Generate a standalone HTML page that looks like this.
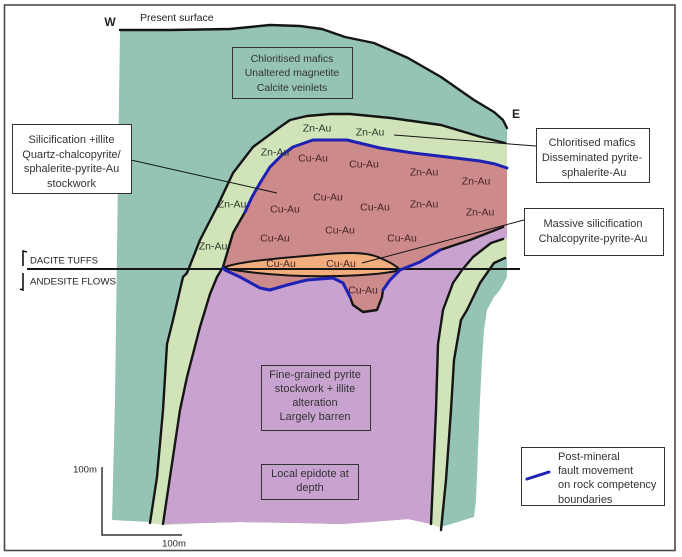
<!DOCTYPE html>
<html><head><meta charset="utf-8"><style>
html,body{margin:0;padding:0;background:#fff;}
svg{display:block;}
text{font-family:"Liberation Sans",Arial,sans-serif;}
</style></head><body>
<svg width="682" height="557" viewBox="0 0 682 557" xmlns="http://www.w3.org/2000/svg">
<rect x="0" y="0" width="682" height="557" fill="#fff"/>
<rect x="4.5" y="5" width="670.5" height="545.5" fill="none" stroke="#4a4a4a" stroke-width="1.6"/>

<!-- teal -->
<polygon fill="#95c4b5" points="120,30 170,30 230,29 270,25 300,26 322,29 345,37 374,43 408,58 441,77 474,100 494,112 503,120 507,128 507,277 500,290 494,297 487,310 484,330 482,360 480,400 478,450 476,500 474,517 451,524 441,527 431,524 408,519 370,522 341,524 300,523 240,522 200,523 165,525 150,522 112,520 115,400 117,250 119,100"/>
<!-- green -->
<polygon fill="#d1e3b8" points="150,523 157,477 163,410 167,344 173,320 183,277 187,273 200,240 217,207 233,173 253,147 280,127 290,120 307,116 330,114 350,114 391,118 441,125 481,137 505,143 507,143 507,258 505,258 494,263 480,283 467,310 461,320 454,360 451,410 446,480 441,528 431,524 408,519 370,522 341,524 300,523 240,522 200,523 165,525"/>
<!-- red -->
<polygon fill="#cc8a8a" points="163,524 170,477 180,410 187,377 200,327 210,294 217,277 223,267 233,233 245,212 252,197 260,183 270,167 282,155 293,147 313,140 347,140 380,148 413,153 447,157 480,161 495,164 507,168 507,238 503,239 491,243 473,257 462,270 453,283 443,310 438,344 436,410 433,480 431,524 408,519 370,522 341,524 300,523 240,522 200,523"/>
<!-- purple -->
<polygon fill="#c9a3d0" points="163,524 170,477 180,410 187,377 200,327 210,294 217,277 223,268 225,270 240,277 260,288 270,290 287,285 307,280 333,278 343,283 350,297 353,305 363,312 377,310 382,297 383,290 390,280 400,270 420,262 440,250 470,240 507,226 507,238 503,239 491,243 473,257 462,270 453,283 443,310 438,344 436,410 433,480 431,524 408,519 370,522 341,524 300,523 240,522 200,523"/>
<!-- orange lens -->
<path d="M223,268 C235,262 270,259 317,255 C345,252 365,252 378,257 C390,262 397,266 400,270 C390,273 370,275 340,276 C300,277 260,275 223,268 Z" fill="#f2ad7e" stroke="#151515" stroke-width="2"/>

<g fill="none" stroke="#151515" stroke-width="2.4" stroke-linejoin="round" stroke-linecap="round">
<polyline points="120,30 170,30 230,29 270,25 300,26 322,29 345,37 374,43 408,58 441,77 474,100 494,112 503,120 507,128"/>
<polyline points="150,523 157,477 163,410 167,344 173,320 183,277 187,273 200,240 217,207 233,173 253,147 280,127 290,120 307,116 330,114 350,114 391,118 441,125 481,137 505,143"/>
<polyline points="163,524 170,477 180,410 187,377 200,327 210,294 217,277 223,267 233,233 245,212 252,197"/>
<polyline points="350,297 353,305 363,312 377,310 382,297 383,290"/>
<polyline points="440,250 470,240 503,227"/>
<polyline points="503,239 491,243 473,257 462,270 453,283 443,310 438,344 436,410 433,480 431,524"/>
<polyline points="505,258 494,263 480,283 467,310 461,320 454,360 451,410 446,480 441,530"/>
</g>
<line x1="27" y1="269" x2="520" y2="269" stroke="#151515" stroke-width="2"/>

<!-- blue faults -->
<g fill="none" stroke="#1e22b4" stroke-width="3" stroke-linejoin="round" stroke-linecap="round">
<polyline points="245,212 252,197 260,183 270,167 282,155 293,147 313,140 347,140 380,148 413,153 447,157 480,161 495,164 507,168"/>
<polyline points="223,268 225,270 240,277 260,288 270,290 287,285 307,280 333,278 343,283 350,297"/>
<polyline points="383,290 390,280 400,270 420,262 440,250"/>
</g>

<!-- pointer lines -->
<g stroke="#151515" stroke-width="1">
<line x1="131" y1="160" x2="277" y2="193"/>
<line x1="394" y1="135" x2="536" y2="146"/>
<line x1="524" y1="220" x2="362" y2="263"/>
</g>

<!-- arrows -->
<g stroke="#151515" stroke-width="1.6" fill="none">
<polyline points="27,252 23,251 23,266"/>
<polyline points="23,273 23,290 20,289"/>
</g>

<!-- scale bar -->
<polyline points="102,467 102,535 182,535" fill="none" stroke="#333" stroke-width="1.5"/>

<!-- boxes -->
<g stroke="#333" stroke-width="1">
<rect x="232.5" y="47.5" width="120" height="51" fill="none"/>
<rect x="12.5" y="124.5" width="119" height="69" fill="#fff"/>
<rect x="536.5" y="128.5" width="113" height="54" fill="#fff"/>
<rect x="524.5" y="208.5" width="139" height="47" fill="#fff"/>
<rect x="261.5" y="365.5" width="109" height="65" fill="none"/>
<rect x="261.5" y="464.5" width="97" height="35" fill="none"/>
<rect x="521.5" y="447.5" width="143" height="58" fill="#fff"/>
</g>
<line x1="527" y1="479" x2="549" y2="472" stroke="#1e22b4" stroke-width="3" stroke-linecap="round"/>

<g fill="#333" font-size="11" text-anchor="middle">
<text x="292" y="62" font-size="10.5">Chloritised mafics</text>
<text x="292" y="76" font-size="10.5">Unaltered magnetite</text>
<text x="292" y="91" font-size="10.5">Calcite veinlets</text>

<text x="71.5" y="143">Silicification +illite</text>
<text x="71.5" y="158">Quartz-chalcopyrite/</text>
<text x="71.5" y="172">sphalerite-pyrite-Au</text>
<text x="71.5" y="187">stockwork</text>

<text x="592" y="146">Chloritised mafics</text>
<text x="592" y="161">Disseminated pyrite-</text>
<text x="594" y="176">sphalerite-Au</text>

<text x="593" y="227">Massive silicification</text>
<text x="593" y="242">Chalcopyrite-pyrite-Au</text>

<text x="315" y="378">Fine-grained pyrite</text>
<text x="315" y="392">stockwork + illite</text>
<text x="315" y="406">alteration</text>
<text x="315" y="420">Largely barren</text>

<text x="310" y="477">Local epidote at</text>
<text x="310" y="491">depth</text>
</g>
<g fill="#333" font-size="11">
<text x="558" y="460">Post-mineral</text>
<text x="558" y="474">fault movement</text>
<text x="558" y="488">on rock competency</text>
<text x="558" y="503">boundaries</text>
</g>

<g fill="#222">
<text x="110" y="26" font-size="12" font-weight="bold" text-anchor="middle">W</text>
<text x="516" y="118" font-size="12" font-weight="bold" text-anchor="middle">E</text>
<text x="140" y="21" font-size="10.5">Present surface</text>
<text x="30" y="263.5" font-size="9.3" textLength="68" lengthAdjust="spacingAndGlyphs">DACITE TUFFS</text>
<text x="30" y="284.5" font-size="9.3" textLength="86" lengthAdjust="spacingAndGlyphs">ANDESITE FLOWS</text>
<text x="85" y="472.5" font-size="9.5" text-anchor="middle">100m</text>
<text x="174" y="546.5" font-size="9.5" text-anchor="middle">100m</text>
</g>

<g fill="#2d3a2d" font-size="10.5" text-anchor="middle">
<text x="317" y="131.7">Zn-Au</text>
<text x="370" y="135.7">Zn-Au</text>
<text x="275" y="155.7">Zn-Au</text>
<text x="232" y="207.7">Zn-Au</text>
<text x="213" y="249.7">Zn-Au</text>
</g>
<g fill="#4a2528" font-size="10.5" text-anchor="middle">
<text x="313" y="161.7">Cu-Au</text>
<text x="364" y="167.7">Cu-Au</text>
<text x="424" y="175.7">Zn-Au</text>
<text x="476" y="184.7">Zn-Au</text>
<text x="328" y="200.7">Cu-Au</text>
<text x="375" y="210.7">Cu-Au</text>
<text x="424" y="207.7">Zn-Au</text>
<text x="480" y="215.7">Zn-Au</text>
<text x="285" y="212.7">Cu-Au</text>
<text x="340" y="233.7">Cu-Au</text>
<text x="275" y="241.7">Cu-Au</text>
<text x="402" y="241.7">Cu-Au</text>
<text x="281" y="267">Cu-Au</text>
<text x="341" y="267">Cu-Au</text>
<text x="363" y="293.7">Cu-Au</text>
</g>
</svg>
</body></html>
